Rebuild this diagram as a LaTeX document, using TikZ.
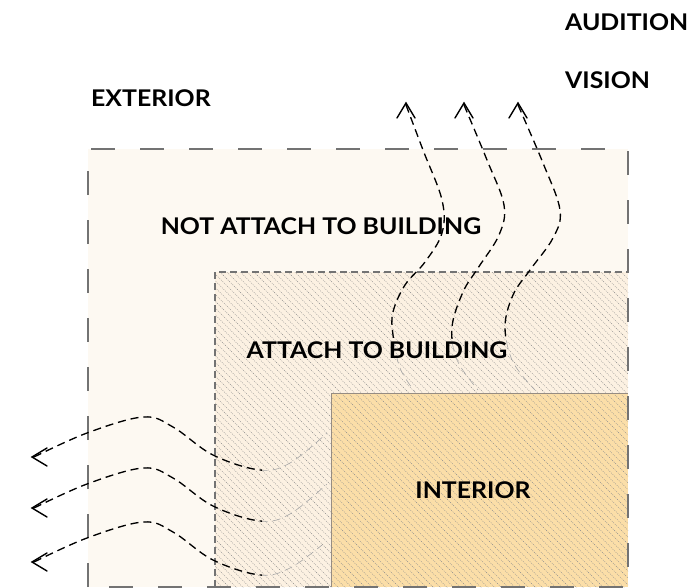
\documentclass[tikz,border=0pt]{standalone}
\usepackage{fontspec}
\setmainfont{Lato}[FakeStretch=1.08]
\begin{document}
\begin{tikzpicture}[x=1pt,y=-1pt,
  lbl/.style={font=\fontsize{23}{26}\selectfont\bfseries, inner sep=0pt},
  wave/.style={line width=1.3pt, dash pattern=on 8pt off 5pt},
  wavefaint/.style={line width=0.6pt, dash pattern=on 8pt off 5pt, draw=black!35},
  chev/.style={line width=1.4pt, line cap=round, line join=miter},
  hatch/.style={draw=black!45, line width=0.4pt, dash pattern=on 1pt off 1.2pt}]
\useasboundingbox (0,0) rectangle (696,587);
% regions
\fill[fill={rgb,255:red,253;green,249;blue,242}] (88,149) rectangle (628,587);
\fill[fill={rgb,255:red,252;green,241;blue,226}] (215,272) rectangle (628,587);
\fill[fill={rgb,255:red,251;green,222;blue,168}] (331,393) rectangle (628,587);
\begin{scope}
  \clip (215,272) rectangle (628,587);
  \foreach \c in {-120,-113.2,...,640} {
    \draw[hatch] (\c,272) -- ++(330,330);
  }
\end{scope}
\draw[draw={rgb,255:red,150;green,140;blue,130}, line width=0.8pt] (331,587) -- (331,393) -- (628,393);
% boundaries
\draw[draw=black!55, line width=1.5pt, dash pattern=on 24pt off 25pt] (88,587) -- (88,149) -- (628,149) -- (628,587) -- cycle;
\draw[draw=black!55, line width=1.2pt, dash pattern=on 7pt off 4pt] (215,587) -- (215,272) -- (628,272);
% curves
\def\vA{(406,105) (423,150) (442,200) (442,233) (425,262) (405,285) (393,312) (393,335) (400,368) (415,392)}
\def\vB{(464,105) (487,160) (504,205) (499,235) (478,268) (463,292) (452,327) (457,360) (478,390)}
\def\vC{(518,105) (543,163) (560,210) (553,238) (530,270) (513,295) (505,327) (513,362) (535,390)}
\def\hA{(34,457) (87,433) (143,417) (173,427) (213,455) (260,470) (290,463) (327,433)}
\def\hB{(34,508) (87,484) (143,468) (173,478) (213,506) (260,521) (290,514) (327,484)}
\def\hC{(34,562) (87,538) (143,522) (173,532) (213,560) (260,575) (290,568) (322,545)}
\foreach \p in {\vA,\vB,\vC,\hA,\hB,\hC} {
  \draw[wavefaint] plot[smooth, tension=0.6] coordinates {\p};
}
\begin{scope}
  \clip (0,0) rectangle (696,340);
  \foreach \p in {\vA,\vB,\vC} { \draw[wave] plot[smooth, tension=0.6] coordinates {\p}; }
\end{scope}
\begin{scope}
  \clip (0,380) rectangle (262,587);
  \foreach \p in {\hA,\hB,\hC} { \draw[wave] plot[smooth, tension=0.6] coordinates {\p}; }
\end{scope}
% chevrons
\foreach \x in {406,464,518} { \draw[chev] (\x-9,118) -- (\x,103) -- (\x+9,118); }
\foreach \y in {457,508,562} { \draw[chev] (47,\y-9) -- (32,\y) -- (47,\y+9); }
% labels
\node[lbl, anchor=west] (ext) at (91,98) {EXTERIOR};
\node[lbl, anchor=west] (aud) at (565,22) {AUDITION};
\node[lbl, anchor=west] (vis) at (565,80) {VISION};
\node[lbl] (nat) at (321,226) {NOT ATTACH TO BUILDING};
\node[lbl] (att) at (377,350) {ATTACH TO BUILDING};
\node[lbl] (int) at (473,490) {INTERIOR};
\end{tikzpicture}
\end{document}
